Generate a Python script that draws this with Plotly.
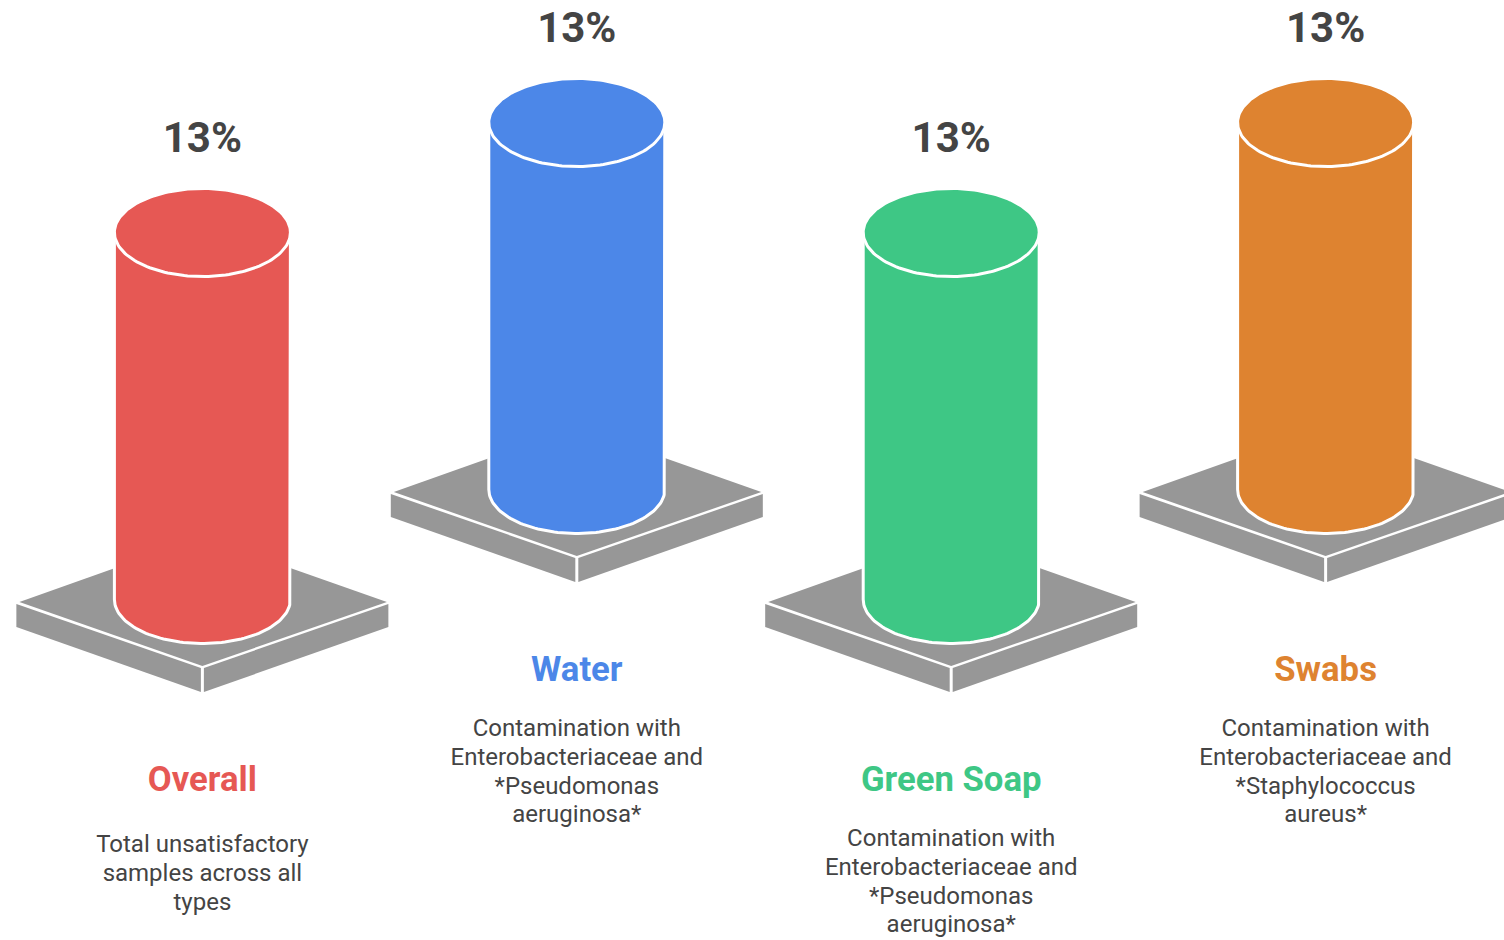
import numpy as np
import plotly.graph_objects as go

categories = ["Overall", "Water", "Green Soap", "Swabs"]
values = [13, 13, 13, 13]
value_labels = ["13%", "13%", "13%", "13%"]
colors = ["#E65854", "#4C87E8", "#3EC785", "#DE8330"]
descriptions = [
    ["Total unsatisfactory", "samples across all", "types"],
    ["Contamination with", "Enterobacteriaceae and", "*Pseudomonas", "aeruginosa*"],
    ["Contamination with", "Enterobacteriaceae and", "*Pseudomonas", "aeruginosa*"],
    ["Contamination with", "Enterobacteriaceae and", "*Staphylococcus", "aureus*"],
]

# page layout, in pixels of the 1504x940 picture
center_x = [202.4, 576.8, 951.2, 1325.6]
floor_y = [667, 557, 667, 557]
title_y = [782, 672, 782, 672]
desc_y = [846, 730, 840, 730]
line_gap = 28.8
gray = "#979797"
text_gray = "#444444"
px_per_value = 367 / 13
rx, ry = 88, 44

fig = go.Figure()


def poly(xs, ys, fill, line_color=None, line_width=0):
    fig.add_trace(go.Scatter(
        x=xs, y=ys, mode="lines", fill="toself", fillcolor=fill,
        line=dict(color=line_color or fill, width=line_width),
        hoverinfo="skip", showlegend=False,
    ))


def label(x, y, text, size, color, bold=False):
    fig.add_trace(go.Scatter(
        x=[x], y=[y], mode="text", text=[text], textposition="middle center",
        textfont=dict(family="Roboto", size=size, color=color, weight="bold" if bold else "normal"),
        hoverinfo="skip", showlegend=False,
    ))


for i, cat in enumerate(categories):
    cx, fy, col = center_x[i], floor_y[i], colors[i]

    # plinth: top diamond and two side faces
    poly([cx - 183, cx, cx + 184.5, cx, cx - 183], [fy - 65, fy - 130, fy - 65, fy - 1, fy - 65], gray)
    poly([cx - 186, cx - 186, cx - 1.5, cx - 1.5, cx - 186], [fy - 63, fy - 40, fy + 25, fy + 1, fy - 63], gray)
    poly([cx + 1.5, cx + 1.5, cx + 186, cx + 186, cx + 1.5], [fy + 1, fy + 25, fy - 40, fy - 63, fy + 1], gray)

    # cylinder height comes from the value
    bottom_cy = fy - 67.5
    top_cy = bottom_cy - values[i] * px_per_value
    t = np.linspace(0, np.pi, 80)
    body_x = np.concatenate([[cx + rx], cx + rx * np.cos(t), [cx - rx, cx + rx]])
    body_y = np.concatenate([[top_cy], bottom_cy + ry * np.sin(t), [top_cy, top_cy]])
    poly(body_x, body_y, col, "white", 3)

    t = np.linspace(0, 2 * np.pi, 160)
    poly(cx + rx * np.cos(t), top_cy + ry * np.sin(t), col, "white", 3)

    label(cx, top_cy - 91.5, value_labels[i], 42, text_gray, True)
    label(cx, title_y[i], cat, 34.7, col, True)
    for j, line in enumerate(descriptions[i]):
        label(cx, desc_y[i] + j * line_gap, line, 24, text_gray)

fig.update_xaxes(range=[0, 1504], visible=False)
fig.update_yaxes(range=[940, 0], visible=False)
fig.update_layout(
    width=1504, height=940,
    margin=dict(l=0, r=0, t=0, b=0),
    paper_bgcolor="white", plot_bgcolor="white",
    showlegend=False,
)

# the page's default body margin would push the chart 8px in
fig.write_html("out.html", config=dict(displayModeBar=False), post_script="document.body.style.margin='0';")
